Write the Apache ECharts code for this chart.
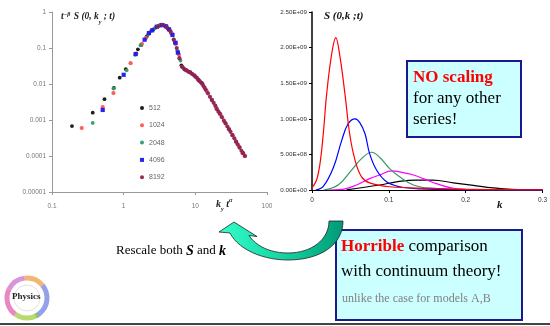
<!DOCTYPE html>
<html><head><meta charset="utf-8">
<script src="https://cdn.jsdelivr.net/npm/echarts@6/dist/echarts.min.js"></script>
<style>html,body{margin:0;padding:0;background:#fff}#c{width:550px;height:326px}</style>
</head><body><div id="c"></div>
<script>
// ---------- Left panel (log-log scaled data) ----------
const leftXTickLabels = ['0.1', '1', '10', '100'];
const leftYTickLabels = ['0.00001', '0.0001', '0.001', '0.01', '0.1', '1'];
const leftSeriesNames = ['512', '1024', '2048', '4096', '8192'];
const s512 = [[0.19,0.00068],[0.37,0.0016],[0.54,0.0038],[0.73,0.0078],[0.88,0.015],[1.07,0.026],[1.58,0.092],[1.75,0.12],[2.1,0.21],[2.6,0.33],[3.1,0.41],[3.6,0.43],[4.1,0.35],[4.6,0.26],[5.2,0.14],[5.8,0.07],[6.4,0.033],[7.2,0.025]];
const s1024 = [[0.26,0.0006],[0.51,0.0023],[0.72,0.0056],[1.25,0.038],[1.5,0.07],[1.8,0.13],[2.05,0.19],[2.4,0.29],[2.8,0.37],[3.3,0.44],[3.7,0.42],[4.2,0.34],[4.7,0.25],[5.3,0.13],[5.9,0.065],[6.6,0.03],[7.5,0.024],[8.5,0.021],[9.8,0.017],[11,0.013],[12.5,0.0102],[14.5,0.0062],[17,0.0036],[19.5,0.0022],[22.5,0.0014],[26,0.00085],[29.5,0.00056],[33,0.00038],[37,0.00025],[41,0.00018],[45.5,0.00012],[49.5,0.0001]];
const s2048 = [[0.37,0.00083],[0.72,0.0075],[1.1,0.024],[1.45,0.065],[1.72,0.12],[2.2,0.24],[2.7,0.35],[3.2,0.43],[3.8,0.41],[4.4,0.31],[5.0,0.17],[5.6,0.085],[6.2,0.045],[6.8,0.028]];
const s4096 = [[0.51,0.0019],[1.0,0.018],[1.47,0.068],[1.96,0.17],[2.25,0.26],[2.5,0.31],[2.9,0.39],[3.4,0.43],[3.9,0.4],[4.3,0.33],[4.8,0.23],[5.3,0.14],[5.7,0.075]];
const s8192 = [[3.0,0.4],[3.5,0.44],[4.0,0.38],[4.5,0.29],[5.0,0.17],[5.5,0.1],[6.0,0.052],[6.5,0.03],[7,0.026],[7.5,0.024],[8,0.022],[8.5,0.021],[9,0.019],[9.5,0.0178],[10,0.016],[10.5,0.0148],[11,0.0132],[11.5,0.012],[12,0.011],[12.5,0.0102],[13,0.0088],[13.5,0.0078],[14,0.0069],[15,0.0055],[16,0.0044],[17,0.0036],[18,0.003],[19,0.0025],[20,0.002],[21,0.0017],[22,0.0015],[23.5,0.0012],[25,0.00096],[26.5,0.0008],[28,0.00066],[29.5,0.00055],[31,0.00047],[33,0.00038],[35,0.00031],[37,0.00025],[39,0.00021],[41.5,0.00017],[44,0.00014],[46.5,0.00012],[49,0.0001]];

// ---------- Right panel (unscaled S(0,k;t)) ----------
const rightXTickLabels = ['0', '0.1', '0.2', '0.3'];
const rightYTickLabels = ['0.00E+00', '5.00E+08', '1.00E+09', '1.50E+09', '2.00E+09', '2.50E+09'];
const lineRed = [[0,3e7],[0.006,1.4e8],[0.0104,3.7e8],[0.0147,7.9e8],[0.019,1.34e9],[0.0255,1.9e9],[0.031,2.14e9],[0.036,1.9e9],[0.043,1.34e9],[0.049,7.9e8],[0.056,4.2e8],[0.0645,1.85e8],[0.075,1.0e8],[0.101,4.6e7],[0.153,2.3e7],[0.2,1e7],[0.25,4e6],[0.3,2e6]];
const lineBlue = [[0.005,0],[0.0147,5e7],[0.028,3.2e8],[0.0385,6.9e8],[0.047,9.3e8],[0.056,1.0e9],[0.062,9.5e8],[0.069,7.9e8],[0.075,5.1e8],[0.084,2.8e8],[0.097,1.15e8],[0.114,4.6e7],[0.14,1.5e7],[0.2,3e6],[0.3,1e6]];
const lineGreen = [[0.015,0],[0.034,7e7],[0.0515,2.8e8],[0.0645,4.4e8],[0.0775,5.3e8],[0.088,4.6e8],[0.101,3.0e8],[0.114,1.85e8],[0.132,7e7],[0.153,2.5e7],[0.2,5e6],[0.3,1e6]];
const lineMagenta = [[0.02,0],[0.036,5e6],[0.058,7e7],[0.075,1.6e8],[0.088,2.1e8],[0.104,2.7e8],[0.116,2.5e8],[0.132,2.1e8],[0.145,1.6e8],[0.162,9e7],[0.184,2.5e7],[0.21,8e6],[0.3,2e6]];
const lineBlack = [[0.045,3e6],[0.088,7e7],[0.11,1.15e8],[0.136,1.4e8],[0.157,1.4e8],[0.184,1.0e8],[0.21,6.5e7],[0.236,3e7],[0.26,1e7],[0.3,3e6]];

const serif = '"Liberation Serif","Times New Roman",serif';
const sans = '"Liberation Sans",Arial,sans-serif';

// decorative curved arrow outline (bezier segments sampled into a polygon)
function bez(p0, p1, p2, p3, n) {
  const out = [];
  for (let i = 0; i <= n; i++) {
    const t = i / n, u = 1 - t;
    out.push([u*u*u*p0[0] + 3*u*u*t*p1[0] + 3*u*t*t*p2[0] + t*t*t*p3[0],
              u*u*u*p0[1] + 3*u*u*t*p1[1] + 3*u*t*t*p2[1] + t*t*t*p3[1]]);
  }
  return out;
}
const arrowPts = [].concat(
  bez([329,221],[329,240],[311,253],[288,253],16),
  bez([288,253],[270,253],[256,246],[249,235.5],12),
  [[257,236.5],[234,222],[219,232]],
  bez([230,233],[238,249],[262,260],[288,260],14),
  bez([288,260],[320,260],[343,245],[343,221],16)
);

const chart = echarts.init(document.getElementById('c'), null, {renderer: 'canvas'});
const lg = v => Math.round(Math.log10(v));

const scat = (name, data, color, symbol, size) => ({
  type: 'scatter', name, data, xAxisIndex: 0, yAxisIndex: 0,
  symbol: symbol || 'circle', symbolSize: size,
  itemStyle: {color, opacity: 0.95}, silent: true
});
const ln = (data, color) => ({
  type: 'line', data, xAxisIndex: 1, yAxisIndex: 1, smooth: 0.4, showSymbol: false,
  lineStyle: {color, width: 1.2}, silent: true
});

const arc = (a0, a1, color) => ({type: 'arc', silent: true, shape: {cx: 27, cy: 298, r: 20, startAngle: a0, endAngle: a1},
  style: {stroke: color, lineWidth: 5, fill: null, opacity: 0.7}});

const it = {fontFamily: serif, fontStyle: 'italic', fontWeight: 'bold', fill: '#222', verticalAlign: 'bottom'};

chart.setOption({
  backgroundColor: '#fff',
  animation: false,
  textStyle: {fontFamily: sans},
  grid: [
    {left: 52, top: 12, width: 215, height: 180},
    {left: 312, top: 12, width: 231, height: 178}
  ],
  xAxis: [
    {type: 'log', gridIndex: 0, min: 0.1, max: 100, logBase: 10,
     axisLine: {lineStyle: {color: '#999', width: 1}},
     axisTick: {show: true, length: 3, lineStyle: {color: '#999'}},
     splitLine: {show: false}, minorTick: {show: false},
     axisLabel: {color: '#777', fontSize: 6.5, margin: 11, formatter: v => leftXTickLabels[lg(v) + 1]}},
    {type: 'value', gridIndex: 1, min: 0, max: 0.3, interval: 0.1,
     axisLine: {lineStyle: {color: '#000', width: 1}},
     axisTick: {show: true, length: 3, lineStyle: {color: '#000'}},
     splitLine: {show: false},
     axisLabel: {color: '#333', fontSize: 6.5, margin: 7, formatter: v => rightXTickLabels[Math.round(v * 10)]}}
  ],
  yAxis: [
    {type: 'log', gridIndex: 0, min: 0.00001, max: 1, logBase: 10,
     axisLine: {show: true, lineStyle: {color: '#999', width: 1}},
     axisTick: {show: true, length: 3, lineStyle: {color: '#999'}},
     splitLine: {show: false},
     axisLabel: {color: '#777', fontSize: 6.5, margin: 6, formatter: v => leftYTickLabels[lg(v) + 5]}},
    {type: 'value', gridIndex: 1, min: 0, max: 2.5e9, interval: 5e8,
     axisLine: {show: true, lineStyle: {color: '#000', width: 1.5}},
     axisTick: {show: true, length: 3, lineStyle: {color: '#000'}},
     splitLine: {show: false},
     axisLabel: {color: '#333', fontSize: 6.2, margin: 5, formatter: v => rightYTickLabels[Math.round(v / 5e8)]}}
  ],
  legend: {
    data: leftSeriesNames, orient: 'vertical', left: 140, top: 104,
    itemWidth: 4, itemHeight: 4, itemGap: 9.3, padding: 0,
    textStyle: {color: '#666', fontSize: 7, lineHeight: 8, fontFamily: sans}
  },
  series: [
    scat('512', s512, '#111111', 'circle', 3.8),
    scat('1024', s1024, '#ff5555', 'circle', 4.2),
    scat('2048', s2048, '#339966', 'circle', 3.8),
    scat('4096', s4096, '#1a1aee', 'rect', 4.2),
    scat('8192', s8192, '#8b2252', 'circle', 4.2),
    ln(lineBlack, '#000000'),
    ln(lineMagenta, '#ff00ff'),
    ln(lineGreen, '#339966'),
    ln(lineBlue, '#0000ff'),
    ln(lineRed, '#ff0000')
  ],
  graphic: [
    {type: 'text', left: 61, top: 11, silent: true, style: {
      text: '{b|t}{s|−β}{b| S (0, k}{u|y}{b| ; t)}',
      rich: {
        b: Object.assign({}, it, {fontSize: 9.5, padding: [0,0,3,0]}),
        s: Object.assign({}, it, {fontSize: 6, padding: [0,1,8,0]}),
        u: Object.assign({}, it, {fontSize: 6, padding: [0,0,0,0]})
      }}},
    {type: 'text', left: 216, top: 197, silent: true, style: {
      text: '{b|k}{u|y}{b| t}{s|α}',
      rich: {
        b: Object.assign({}, it, {fontSize: 10, padding: [0,0,3,0]}),
        s: Object.assign({}, it, {fontSize: 6, padding: [0,0,9,0]}),
        u: Object.assign({}, it, {fontSize: 6, padding: [0,0,0,0]})
      }}},
    {type: 'text', left: 324, top: 11, silent: true, style: {
      text: 'S (0,k ;t)', font: 'italic bold 11px ' + serif, fill: '#111'}},
    {type: 'text', left: 497, top: 200, silent: true, style: {
      text: 'k', font: 'italic bold 11px ' + serif, fill: '#111'}},
    {type: 'rect', shape: {x: 407, y: 61, width: 114, height: 76}, silent: true,
     style: {fill: '#ccffff', stroke: '#1a1a8c', lineWidth: 2}},
    {type: 'text', left: 413, top: 69, silent: true, style: {text: 'NO scaling', font: 'bold 17px ' + serif, fill: '#ff0000'}},
    {type: 'text', left: 413, top: 90, silent: true, style: {text: 'for any other', font: '17px ' + serif, fill: '#000'}},
    {type: 'text', left: 413, top: 111, silent: true, style: {text: 'series!', font: '17px ' + serif, fill: '#000'}},
    {type: 'rect', shape: {x: 336, y: 230, width: 186, height: 90}, silent: true,
     style: {fill: '#ccffff', stroke: '#1a1a8c', lineWidth: 2}},
    {type: 'text', left: 341, top: 238, silent: true, style: {
      text: '{r|Horrible}{n| comparison}',
      rich: {r: {font: 'bold 17px ' + serif, fill: '#ff0000'}, n: {font: '17px ' + serif, fill: '#000'}}}},
    {type: 'text', left: 341, top: 263, silent: true, style: {text: 'with continuum theory!', font: '17px ' + serif, fill: '#000'}},
    {type: 'text', left: 342, top: 293, silent: true, style: {text: 'unlike the case for models A,B', font: '12px ' + serif, fill: '#808080'}},
    {type: 'text', left: 116, top: 244, silent: true, style: {
      text: '{n|Rescale both }{b|S}{n| and }{b|k}',
      rich: {n: {font: '13px ' + serif, fill: '#000'}, b: {font: 'italic bold 14px ' + serif, fill: '#000'}}}},
    {type: 'polygon', silent: true, shape: {points: arrowPts},
     style: {fill: {type: 'linear', x: 0, y: 0, x2: 1, y2: 0, colorStops: [{offset: 0, color: '#33ffcc'}, {offset: 0.6, color: '#11cc99'}, {offset: 1, color: '#009977'}]},
             stroke: '#222', lineWidth: 0.8}},
    arc(3.6, 4.6, '#cc66cc'), arc(4.6, 5.6, '#ee9933'), arc(5.6, 7.4, '#6677dd'), arc(1.0, 2.2, '#99cc33'), arc(2.2, 3.6, '#dd55aa'),
    {type: 'circle', silent: true, shape: {cx: 27, cy: 298, r: 13}, style: {fill: null, stroke: '#ccc', lineWidth: 0.6}},
    {type: 'text', silent: true, left: 12, top: 292, style: {text: 'Physics', font: 'bold 9px ' + serif, fill: '#222'}},
    {type: 'line', silent: true, shape: {x1: 0, y1: 324, x2: 550, y2: 324}, style: {stroke: '#444', lineWidth: 2}}
  ]
});
</script></body></html>
